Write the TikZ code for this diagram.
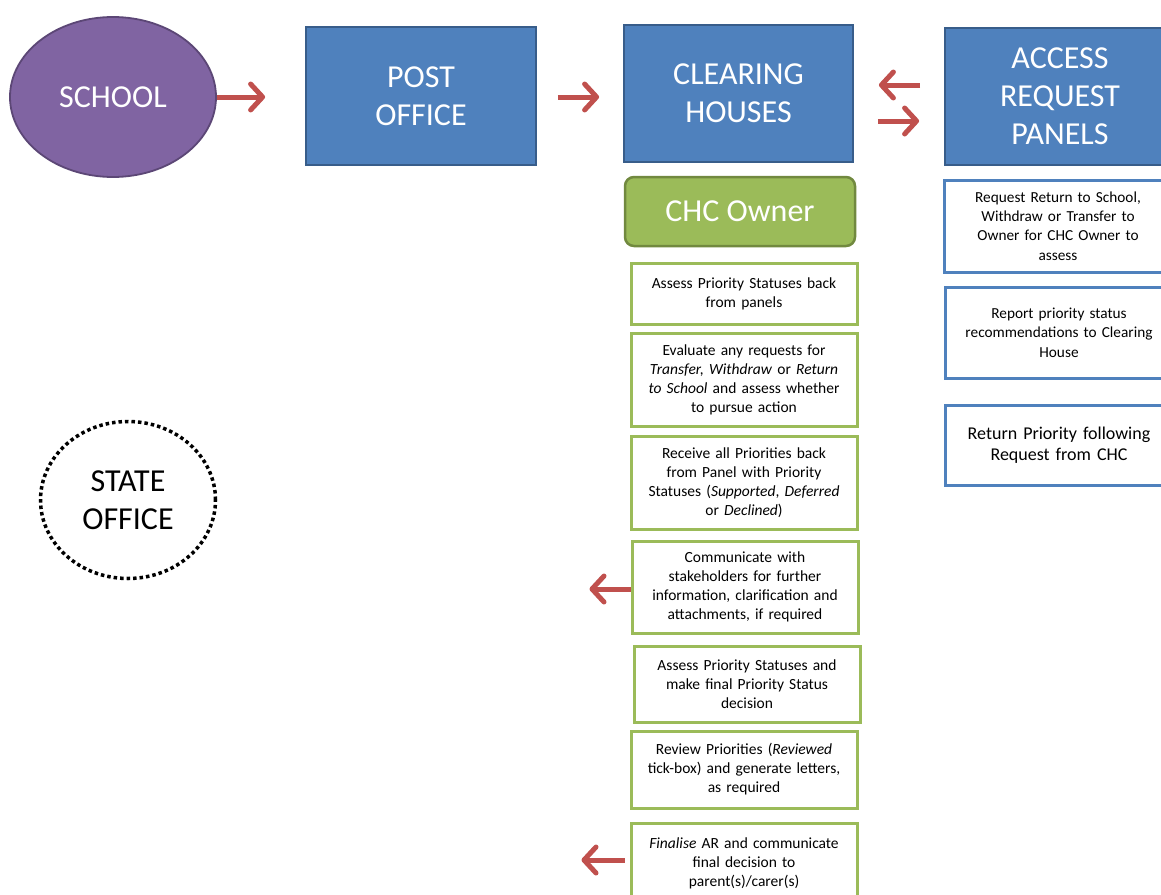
\documentclass[tikz,border=0pt]{standalone}
\usepackage{fontspec}
\setmainfont{Carlito}
\usetikzlibrary{arrows.meta,shapes.geometric}
\definecolor{redA}{HTML}{C0504D}
\definecolor{blueF}{HTML}{4F81BD}
\definecolor{blueD}{HTML}{385D8A}
\definecolor{purpF}{HTML}{8064A2}
\definecolor{purpD}{HTML}{5C4776}
\definecolor{greenF}{HTML}{9BBB59}
\definecolor{greenD}{HTML}{71893F}
\tikzset{
  redarrow/.style={draw=redA, line width=5pt, -{Straight Barb[length=12pt,width=26pt,line width=5pt,round]}},
  head/.style={font=\fontsize{32}{38}\selectfont, text=white, align=center, inner sep=0pt},
  bluebox/.style={head, draw=blueD, fill=blueF, line width=1.8pt},
  greenbox/.style={draw=greenF, fill=white, line width=3pt, align=center, inner sep=0pt,
     font=\fontsize{15.5}{19}\selectfont, text width=226pt},
  sidebox/.style={draw=blueF, fill=white, line width=3pt, align=center, inner sep=0pt,
     font=\fontsize{15.3}{19.3}\selectfont, text width=228pt},
}
\begin{document}
\begin{tikzpicture}[x=1pt,y=-1pt]
\useasboundingbox (0,0) rectangle (1161,894);
\clip (0,0) rectangle (1161,894);
% top row
\node[head, ellipse, draw=purpD, fill=purpF, line width=1.8pt, minimum width=206pt, minimum height=160pt] (school) at (113,97) {SCHOOL};
\node[bluebox, minimum width=230pt, minimum height=138pt] (post) at (421,96) {POST\\OFFICE};
\node[bluebox, minimum width=229pt, minimum height=137pt] (clearing) at (738.5,93.5) {CLEARING\\HOUSES};
\node[bluebox, minimum width=230pt, minimum height=137pt] (arp) at (1060,96.5) {ACCESS\\REQUEST\\PANELS};
% arrows top
\draw[redarrow, shorten >=40pt] (school.east) -- (post.west |- school.east);
\draw[redarrow, shorten <=21pt, shorten >=24pt] (post.east |- 0,97) -- (clearing.west |- 0,97);
\draw[redarrow, shorten <=24pt, shorten >=25pt] (arp.west |- 0,85) -- (clearing.east |- 0,85);
\draw[redarrow, shorten <=24pt, shorten >=25pt] (clearing.east |- 0,121) -- (arp.west |- 0,121);
% CHC owner
\node[head, rounded corners=9pt, draw=greenD, fill=greenF, line width=2.5pt, minimum width=230pt, minimum height=69pt] (chc) at (740,211.5) {CHC Owner};
% green boxes
\node[greenbox, minimum height=61pt] (g1) at (744,293.5) {Assess Priority Statuses back\\from panels};
\node[greenbox, minimum height=93pt] (g2) at (744,379.5) {Evaluate any requests for\\\textit{Transfer, Withdraw} or \textit{Return}\\\textit{to School} and assess whether\\to pursue action};
\node[greenbox, minimum height=93pt] (g3) at (744,482.5) {Receive all Priorities back\\from Panel with Priority\\Statuses (\textit{Supported}, \textit{Deferred}\\or \textit{Declined})};
\node[greenbox, minimum height=92pt] (g4) at (745,587) {Communicate with\\stakeholders for further\\information, clarification and\\attachments,\ if required};
\node[greenbox, minimum height=76pt] (g5) at (747,684) {Assess Priority Statuses and\\make final Priority Status\\decision};
\node[greenbox, minimum height=77pt] (g6) at (744,769.5) {Review Priorities (\textit{Reviewed}\\tick-box) and generate letters,\\as required};
\node[greenbox, minimum height=80pt] (g7) at (744,863) {\textit{Finalise} AR and communicate\\final decision to\\parent(s)/carer(s)};
\draw[redarrow, shorten >=2pt] (g4.west |- 0,589) -- ++(-43,0) coordinate (g4out);
\draw[redarrow, shorten <=5pt, shorten >=2pt] (g7.west |- 0,860) -- ++(-50,0) coordinate (g7out);
% side boxes
\node[sidebox, minimum height=92pt] (b1) at (1058,226) {Request Return to School,\\Withdraw or Transfer to\\Owner for CHC Owner to\\assess};
\node[sidebox, minimum height=91pt] (b2) at (1059,332.5) {Report priority status\\recommendations\ to Clearing\\House};
\node[sidebox, minimum height=80pt, font=\fontsize{18}{21}\selectfont] (b3) at (1059,445) {Return Priority\ following\\Request from CHC};
% state office
\node[ellipse, draw=black, line width=3.5pt, dash pattern=on 3.5pt off 3pt, minimum width=175pt, minimum height=157pt, align=center, inner sep=0pt, font=\fontsize{32}{38}\selectfont] (state) at (128,500) {STATE\\OFFICE};
\end{tikzpicture}
\end{document}
